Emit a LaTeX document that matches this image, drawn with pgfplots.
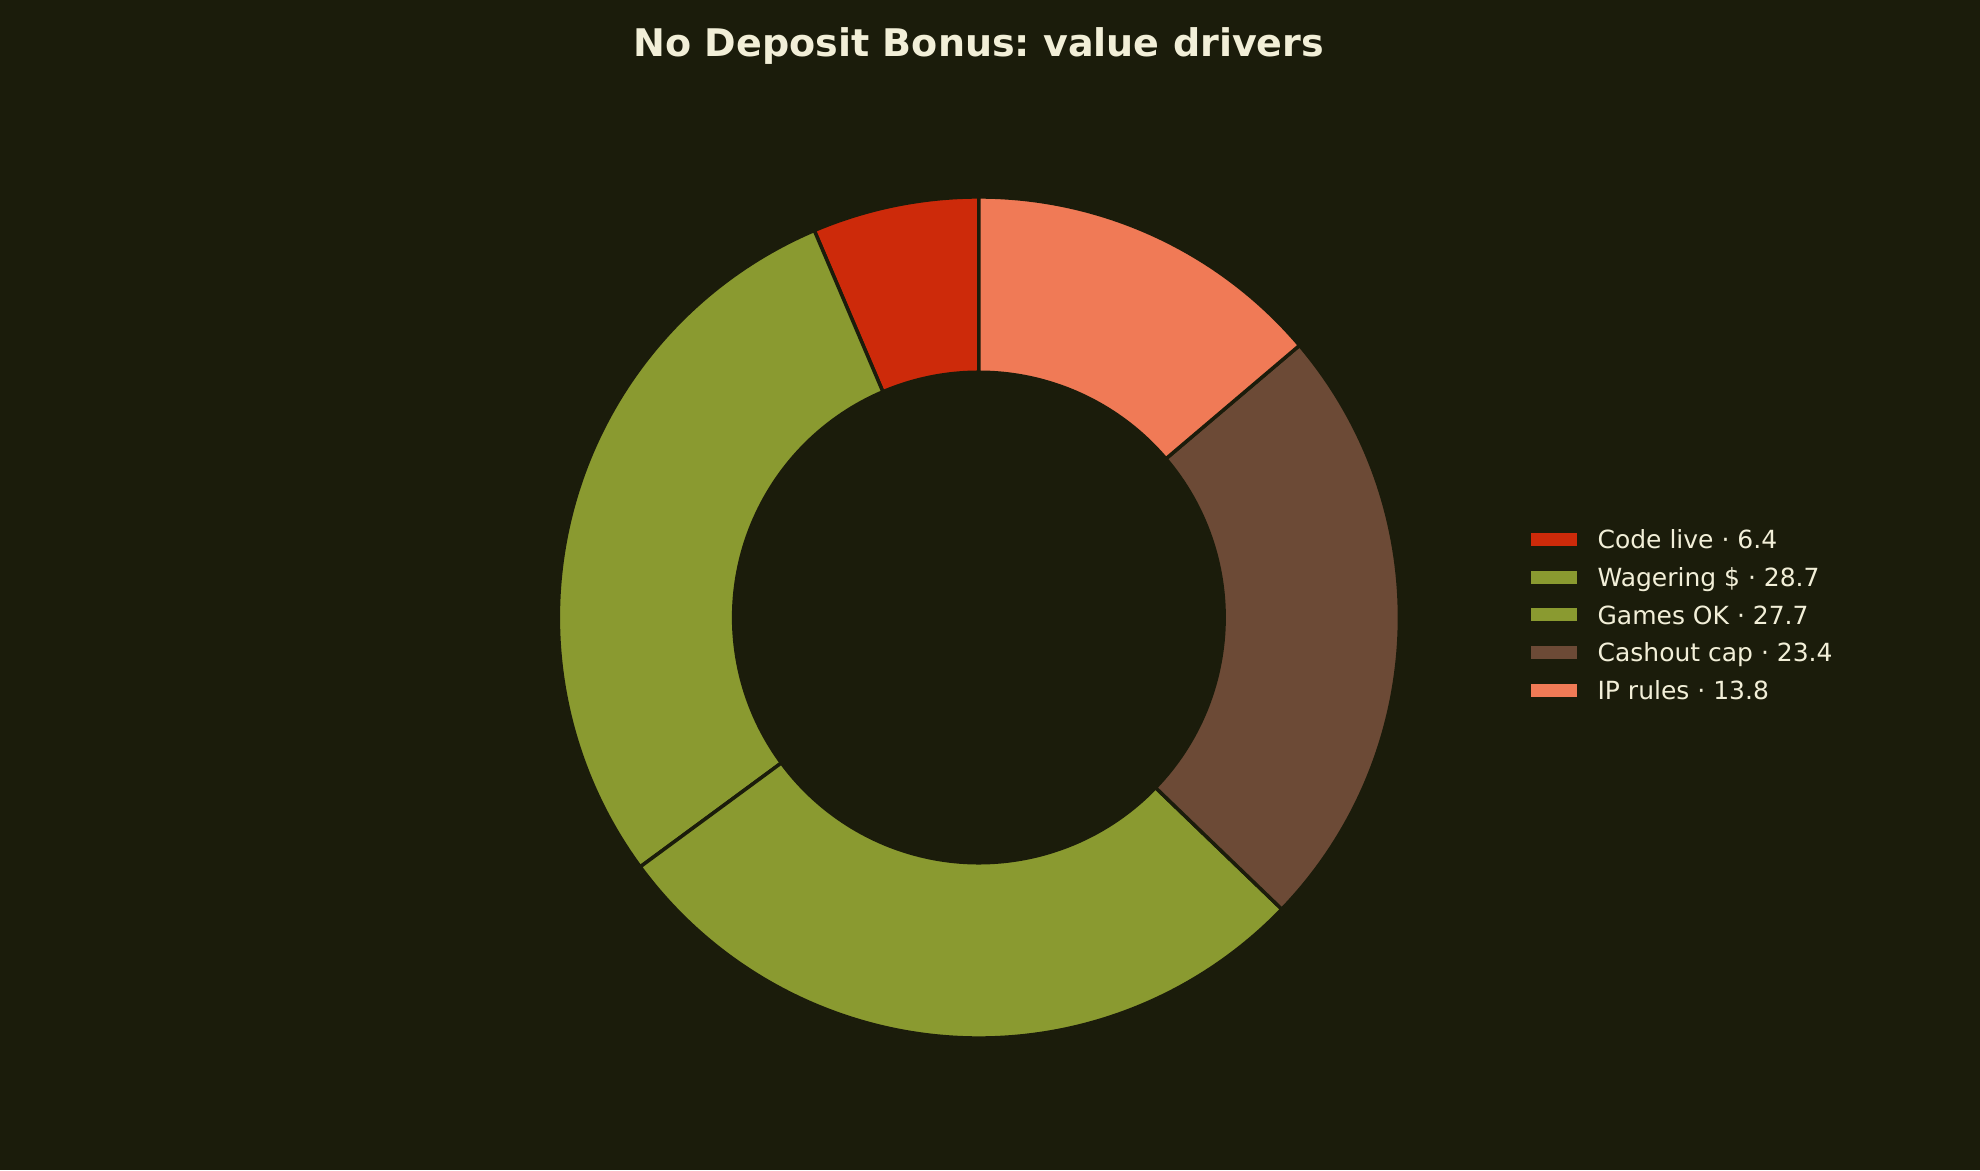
\documentclass[border=0pt]{standalone}
\usepackage{fontspec}
\setmainfont{DejaVu Sans}
\usepackage{pgfplots}
\usepackage{pgfplotstable}
\pgfplotsset{compat=1.18}
\frenchspacing

\definecolor{bg}{HTML}{1B1C0B}
\definecolor{txt}{HTML}{F2EFD8}
\definecolor{c0}{HTML}{CD2A0A}
\definecolor{c1}{HTML}{8A9A30}
\definecolor{c2}{HTML}{8A9A30}
\definecolor{c3}{HTML}{6C4A36}
\definecolor{c4}{HTML}{F07A56}

% share of each driver, wedges run counter-clockwise from the top
\pgfplotstableread[col sep=comma]{
label,value
Code live,6.4
Wagering,28.7
Games OK,27.7
Cashout cap,23.4
IP rules,13.8
}\drivers

% start/end angle of every wedge
\def\cum{90}
\pgfplotsforeachungrouped \i in {0,...,4}{%
  \pgfplotstablegetelem{\i}{value}\of\drivers
  \pgfmathsetmacro\nxt{\cum+3.6*\pgfplotsretval}%
  \expandafter\xdef\csname a\i\endcsname{\cum}%
  \expandafter\xdef\csname b\i\endcsname{\nxt}%
  \xdef\cum{\nxt}%
}

\def\ro{151.4}
\def\ri{88.3}

\begin{document}
\begin{tikzpicture}
\begin{axis}[
  x=1pt, y=1pt,
  xmin=-352.4, xmax=360.4,
  ymin=-198.9, ymax=222.3,
  hide axis,
  title={No Deposit Bonus: value drivers},
  % default title style carries yshift=6pt, take it back
  title style={at={(0.4944,0.9513)}, anchor=base, yshift=-6pt, inner sep=0pt,
    font=\bfseries\fontsize{13.7}{16}\selectfont, text=txt},
  legend cell align=left,
  legend image code/.code={\fill[#1] (-23.6pt,-2.15pt) rectangle (-7.4pt,2.15pt); \path (0pt,0pt);},
  legend style={at={(0.7732,0.4744)}, anchor=west, draw=none, fill=none,
    inner sep=0pt, outer sep=0pt, row sep=7pt,
    nodes={inner sep=0pt, text height=6.6pt, text depth=0pt,
      font=\fontsize{9}{11}\selectfont, text=txt}},
]
\fill[bg] (rel axis cs:0,0) rectangle (rel axis cs:1,1);

\pgfplotsinvokeforeach{0,...,4}{%
  \edef\temp{\noexpand\filldraw[fill=c#1, draw=bg, line width=1.25pt]
    (axis cs:0,0) ++(\csname a#1\endcsname:\ro pt)
    arc[start angle=\csname a#1\endcsname, end angle=\csname b#1\endcsname, radius=\ro pt]
    -- (axis cs:{\ri*cos(\csname b#1\endcsname)},{\ri*sin(\csname b#1\endcsname)})
    arc[start angle=\csname b#1\endcsname, end angle=\csname a#1\endcsname, radius=\ri pt]
    -- cycle;}%
  \temp
}

\addlegendimage{c0}\addlegendentry{Code live · 6.4}
\addlegendimage{c1}\addlegendentry{Wagering \$ · 28.7}
\addlegendimage{c2}\addlegendentry{Games OK · 27.7}
\addlegendimage{c3}\addlegendentry{Cashout cap · 23.4}
\addlegendimage{c4}\addlegendentry{IP rules · 13.8}
\end{axis}
\end{tikzpicture}
\end{document}
